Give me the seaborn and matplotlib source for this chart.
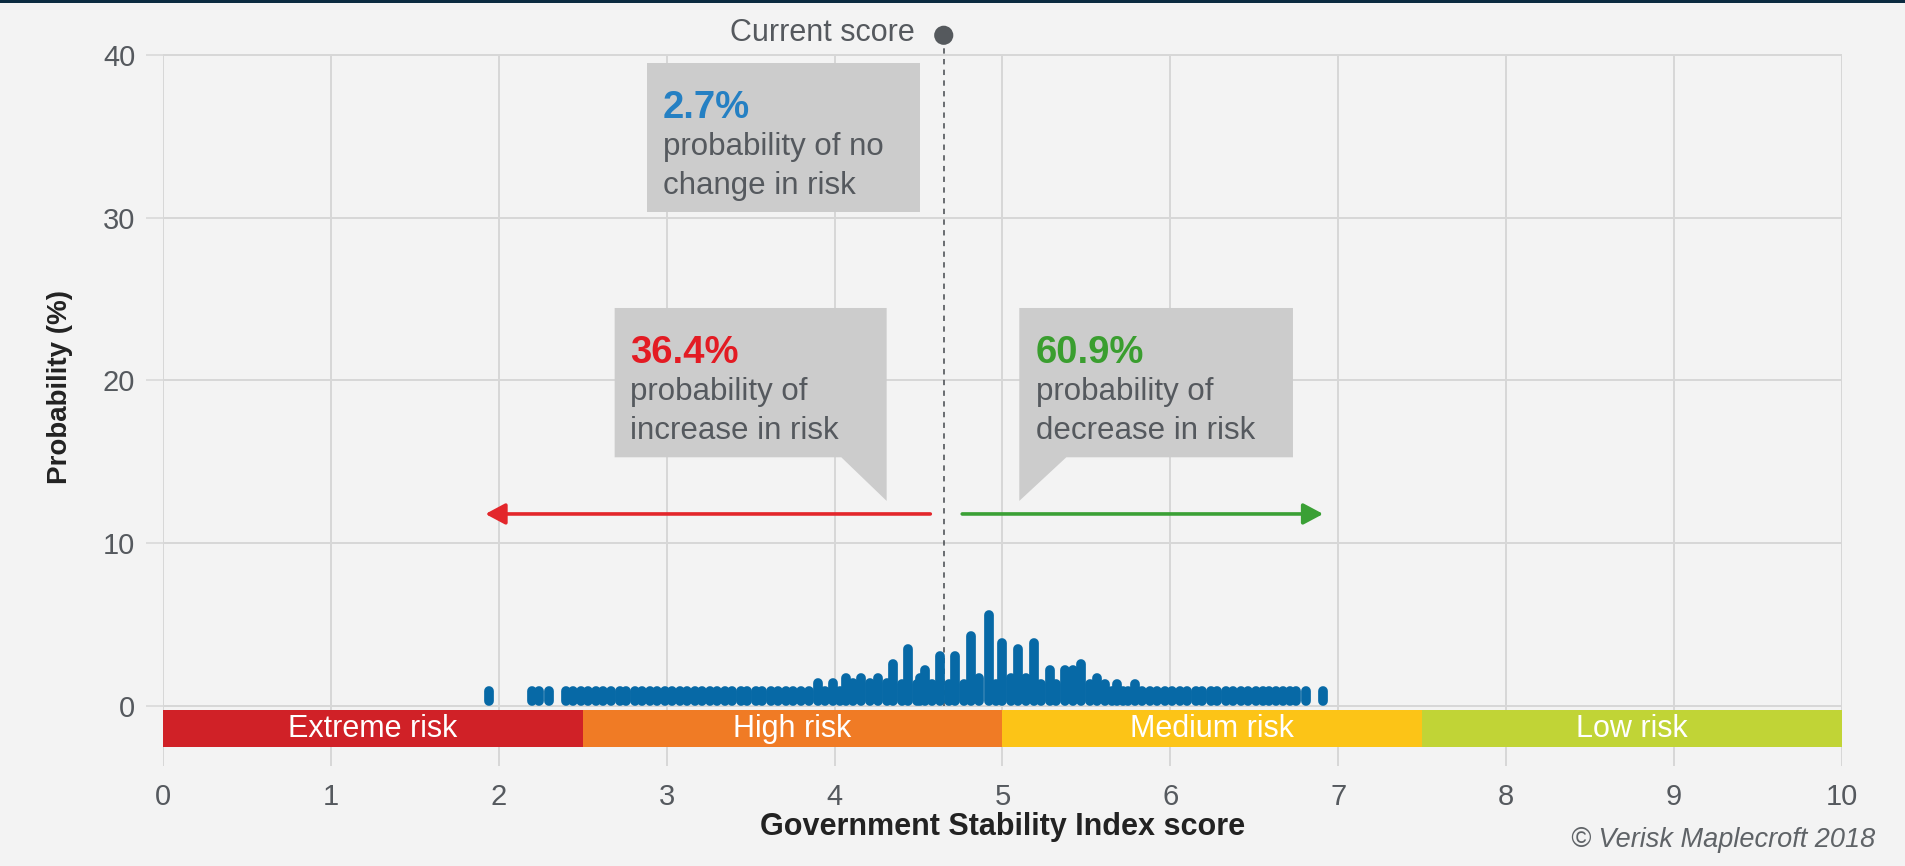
import matplotlib
matplotlib.use("Agg")
import matplotlib.pyplot as plt
from matplotlib.patches import Polygon, Rectangle
import seaborn as sns

# Simulated score distribution (score, probability %)
scores = [1.94, 2.20, 2.24, 2.30,
          2.40, 2.44, 2.49, 2.53, 2.58, 2.62, 2.67,
          2.72, 2.76, 2.81, 2.85, 2.90, 2.94, 2.99, 3.03, 3.08, 3.12, 3.17,
          3.21, 3.26, 3.30, 3.35, 3.39, 3.44, 3.48, 3.53, 3.57, 3.62, 3.66,
          3.71, 3.75, 3.80, 3.85,
          3.90, 3.94, 3.99, 4.03, 4.07, 4.11, 4.16, 4.21, 4.26, 4.31, 4.35,
          4.40, 4.44, 4.49, 4.51, 4.54, 4.58, 4.63, 4.68, 4.72, 4.77, 4.81,
          4.86, 4.92, 4.96, 5.00, 5.05, 5.09, 5.14, 5.19, 5.23, 5.28, 5.32,
          5.37, 5.42, 5.47, 5.52, 5.56, 5.61, 5.65, 5.68, 5.72, 5.75, 5.79,
          5.83, 5.88, 5.92, 5.97, 6.01, 6.06, 6.10, 6.15, 6.19, 6.24, 6.28,
          6.33, 6.37, 6.42, 6.46, 6.51, 6.55, 6.59, 6.63, 6.67, 6.71, 6.75,
          6.81, 6.91]
probs = [1.25, 1.25, 1.25, 1.25,
         1.25, 1.25, 1.25, 1.25, 1.25, 1.25, 1.25,
         1.25, 1.25, 1.25, 1.25, 1.25, 1.25, 1.25, 1.25, 1.25, 1.25, 1.25,
         1.25, 1.25, 1.25, 1.25, 1.25, 1.25, 1.25, 1.25, 1.25, 1.25, 1.25,
         1.25, 1.25, 1.25, 1.25,
         1.7, 1.25, 1.7, 1.25, 2.05, 1.7, 2.05, 1.7, 2.05, 1.7, 2.9,
         1.65, 3.8, 1.65, 2.05, 2.5, 1.65, 3.35, 1.65, 3.35, 1.65, 4.6,
         2.05, 5.9, 1.65, 4.2, 2.05, 3.8, 2.05, 4.2, 1.65, 2.5, 1.65,
         2.5, 2.5, 2.9, 1.65, 2.05, 1.65, 1.25, 1.65, 1.25, 1.25, 1.65,
         1.25, 1.25, 1.25, 1.25, 1.25, 1.25, 1.25, 1.25, 1.25, 1.25, 1.25,
         1.25, 1.25, 1.25, 1.25, 1.25, 1.25, 1.25, 1.25, 1.25, 1.25, 1.25,
         1.25, 1.25]

current_score = 4.65

# risk bands
band_edges = [0, 2.5, 5, 7.5, 10]
band_labels = ["Extreme risk", "High risk", "Medium risk", "Low risk"]
band_colors = ["#d02127", "#f07b25", "#fcc417", "#c1d436"]

# probability call-outs
p_no_change = "2.7%"
p_increase = "36.4%"
p_decrease = "60.9%"

TXT = "#55595e"
GRID = "#d7d7d7"
BG = "#f3f3f3"
BLUE_BAR = "#0769a6"

sns.set_theme(style="whitegrid", rc={
    "axes.facecolor": BG, "figure.facecolor": BG,
    "grid.color": GRID, "grid.linewidth": 1.4,
})
plt.rcParams["font.family"] = ["Liberation Sans", "DejaVu Sans"]

W, H, DPI = 1906, 866, 100
fig = plt.figure(figsize=(W / DPI, H / DPI), dpi=DPI)
pos = [163 / W, (H - 766) / H, (1842 - 163) / W, (766 - 54) / H]
ax = fig.add_axes(pos)

ymin, ymax = -3.68, 40.05
ax.set_xlim(0, 10)
ax.set_ylim(ymin, ymax)

# bars as thick round-capped lines
lw_pt = 7.0
px_per_unit = pos[3] * H / (ymax - ymin)
cap = (lw_pt / 2 * DPI / 72) / px_per_unit
ax.vlines(scores, cap, [p - cap for p in probs], color=BLUE_BAR,
          linewidth=lw_pt, capstyle="round", zorder=4)

# risk bands
for i, lab in enumerate(band_labels):
    left, right = band_edges[i], band_edges[i + 1]
    ax.bar(left, -2.27, width=right - left, bottom=-0.25, align="edge",
           color=band_colors[i], linewidth=0, zorder=3)
    ax.text((left + right) / 2, -1.4, lab, color="white", fontsize=22,
            ha="center", va="center", zorder=5)

# current score marker
ax.plot([current_score, current_score], [0, 41.2], color="#44484c",
        lw=1.1, dashes=(3.5, 3.5), zorder=2, clip_on=False)
sns.scatterplot(x=[current_score], y=[41.2], ax=ax, s=190, color="#55595d",
                edgecolor="none", zorder=6, clip_on=False, legend=False)
ax.text(4.48, 40.82, "Current score", color=TXT, fontsize=22,
        ha="right", va="baseline")

BOX = "#cccccc"
# no change box
ax.add_patch(Rectangle((2.88, 30.37), 4.51 - 2.88, 39.51 - 30.37,
                       facecolor=BOX, edgecolor="none", zorder=4))
# increase / decrease boxes with pointers
ax.add_patch(Polygon([(2.69, 24.45), (4.31, 24.45), (4.31, 12.6), (4.04, 15.28),
                      (2.69, 15.28)], closed=True, facecolor=BOX,
                     edgecolor="none", zorder=4))
ax.add_patch(Polygon([(5.10, 24.45), (6.73, 24.45), (6.73, 15.28), (5.38, 15.28),
                      (5.10, 12.6)], closed=True, facecolor=BOX,
                     edgecolor="none", zorder=4))


def callout(x, top, pct, color, line1, line2):
    ax.text(x, top - 55 / px_per_unit, pct, color=color, fontsize=27.5,
            fontweight="bold", ha="left", va="baseline", zorder=6)
    ax.text(x, top - 92.5 / px_per_unit, line1, color=TXT, fontsize=22.5,
            ha="left", va="baseline", zorder=6)
    ax.text(x, top - 131 / px_per_unit, line2, color=TXT, fontsize=22.5,
            ha="left", va="baseline", zorder=6)


callout(2.975, 39.51, p_no_change, "#2580c3", "probability of no", "change in risk")
callout(2.78, 24.45, p_increase, "#e31b23", "probability of", "increase in risk")
callout(5.20, 24.45, p_decrease, "#3a9e2f", "probability of", "decrease in risk")

# direction arrows
ax.annotate("", xy=(1.92, 11.8), xytext=(4.57, 11.8),
            arrowprops=dict(arrowstyle="-|>,head_length=0.6,head_width=0.32",
                            color="#e3262b", lw=2.6, mutation_scale=20,
                            shrinkA=0, shrinkB=0), zorder=5)
ax.annotate("", xy=(6.91, 11.8), xytext=(4.76, 11.8),
            arrowprops=dict(arrowstyle="-|>,head_length=0.6,head_width=0.32",
                            color="#3aa035", lw=2.6, mutation_scale=20,
                            shrinkA=0, shrinkB=0), zorder=5)

# axes styling
ax.set_xticks(range(0, 11))
ax.set_yticks([0, 10, 20, 30, 40])
for s in ax.spines.values():
    s.set_visible(False)
ax.tick_params(axis="x", length=0, pad=12, labelsize=21, labelcolor=TXT)
ax.tick_params(axis="y", length=12, width=1.1, color=GRID, pad=8,
               labelsize=21, labelcolor=TXT, left=True)
ax.grid(True, zorder=0)
ax.set_axisbelow(True)

ax.set_xlabel("Government Stability Index score", fontsize=22,
              fontweight="bold", color="#222222")
ax.xaxis.set_label_coords(0.5, -0.065)
ax.set_ylabel("Probability (%)", fontsize=20, fontweight="bold",
              color="#222222")
ax.yaxis.set_label_coords(-0.0536, 0.532)

fig.text(1875 / W, 1 - 840 / H, "\u00a9 Verisk Maplecroft 2018", color="#5f6367",
         fontsize=19.5, style="italic", ha="right", va="center")

# dark rule along the top edge
fig.add_artist(Rectangle((0, 1 - 3 / H), 1, 3 / H, transform=fig.transFigure,
                         facecolor="#0b2b40", edgecolor="none"))

fig.savefig("out.png", dpi=DPI, facecolor=BG)
